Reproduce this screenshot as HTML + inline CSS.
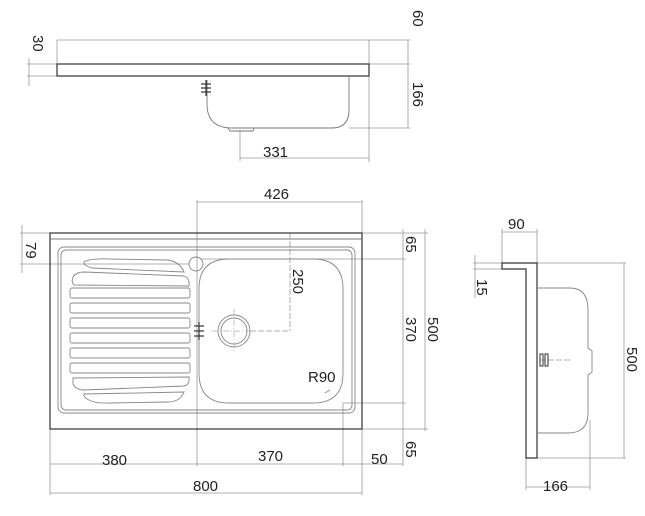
<!DOCTYPE html>
<html><head><style>
html,body{margin:0;padding:0;background:#fff;}
svg{display:block;}
text{font-family:"Liberation Sans",sans-serif;font-size:15px;fill:#222;}
</style></head><body>
<svg width="645" height="516" viewBox="0 0 645 516" xmlns="http://www.w3.org/2000/svg">
<g fill="none" stroke="#999" stroke-width="0.8">
<line x1="57" y1="40" x2="410" y2="40"/>
<line x1="57" y1="40" x2="57" y2="64"/>
<line x1="369" y1="40" x2="369" y2="162"/>
<line x1="408" y1="40" x2="408" y2="128"/>
<line x1="369" y1="64" x2="410" y2="64"/>
<line x1="349" y1="128" x2="410" y2="128"/>
<line x1="29" y1="58" x2="29" y2="86"/>
<line x1="27" y1="64" x2="57" y2="64"/>
<line x1="27" y1="76" x2="57" y2="76"/>
<line x1="240" y1="130" x2="240" y2="161"/>
<line x1="240" y1="158" x2="369" y2="158"/>
<line x1="197" y1="200" x2="197" y2="466"/>
<line x1="362" y1="200" x2="362" y2="233"/>
<line x1="197" y1="202" x2="362" y2="202"/>
<line x1="290" y1="233" x2="290" y2="331" stroke-dasharray="6,2"/>
<line x1="250" y1="331" x2="290" y2="331" stroke-dasharray="6,2"/>
<line x1="362" y1="233" x2="428" y2="233"/>
<line x1="200" y1="259" x2="406" y2="259"/>
<line x1="343" y1="403" x2="406" y2="403"/>
<line x1="362" y1="429" x2="428" y2="429"/>
<line x1="403" y1="229" x2="403" y2="466"/>
<line x1="425" y1="229" x2="425" y2="431"/>
<line x1="22" y1="225" x2="22" y2="273"/>
<line x1="20" y1="233" x2="50" y2="233"/>
<line x1="20" y1="264" x2="189" y2="264"/>
<line x1="343" y1="403" x2="343" y2="466"/>
<line x1="50" y1="429" x2="50" y2="495"/>
<line x1="362" y1="429" x2="362" y2="495"/>
<line x1="50" y1="464" x2="403" y2="464"/>
<line x1="50" y1="493" x2="362" y2="493"/>
<line x1="502" y1="229" x2="502" y2="263"/>
<line x1="537" y1="229" x2="537" y2="263"/>
<line x1="502" y1="232" x2="537" y2="232"/>
<line x1="475" y1="255" x2="475" y2="298"/>
<line x1="473" y1="263" x2="502" y2="263"/>
<line x1="473" y1="269" x2="502" y2="269"/>
<line x1="537" y1="263" x2="626" y2="263"/>
<line x1="537" y1="458" x2="626" y2="458"/>
<line x1="624" y1="263" x2="624" y2="458"/>
<line x1="526" y1="458" x2="526" y2="490"/>
<line x1="590" y1="420" x2="590" y2="490"/>
<line x1="526" y1="487" x2="590" y2="487"/>
<line x1="540" y1="360" x2="570" y2="360" stroke-dasharray="6,2"/>
</g>

<g fill="none" stroke="#333" stroke-width="1.2">
<rect x="57" y="64" width="312" height="12"/>
</g>
<g fill="none" stroke="#777" stroke-width="0.9">
<path d="M207,80 L207,104 Q207,128 232,128 L332,128 Q349,128 349,110 L349,76"/>
<path d="M228,128 L230,131 L253,131 L254,128"/>
</g>
<g stroke="#333" stroke-width="1.2">
<line x1="206" y1="80" x2="206" y2="96"/>
<line x1="201" y1="84" x2="211" y2="84"/>
<line x1="201" y1="88" x2="211" y2="88"/>
<line x1="201" y1="92" x2="211" y2="92"/>
</g>

<g fill="none" stroke="#333" stroke-width="1.2">
<rect x="50" y="233" width="312" height="196"/>
<line x1="50" y1="239" x2="362" y2="239" stroke="#777" stroke-width="0.9"/>
</g>
<g fill="none" stroke="#888" stroke-width="0.9">
<rect x="58" y="247" width="297" height="166" rx="6"/>
<rect x="61" y="250" width="291" height="160" rx="5"/>
<path d="M229,259 L313,259 Q343,259 343,289 L343,373 Q343,403 313,403 L229,403 Q199,403 199,373 L199,289 Q199,259 229,259 Z"/>
<circle cx="196" cy="264" r="7"/>
<circle cx="234" cy="331" r="16"/>
<circle cx="234" cy="331" r="13"/>
<path d="M84,262 Q90,258 110,259 L168,260 Q180,262 184,272 L92,268 Q84,266 84,262 Z"/>
<path d="M73,277 Q76,272 84,272 L184,276 Q190,278 189,286 L74,285 Q71,282 73,277 Z"/>
<rect x="70" y="288" width="120" height="10" rx="2"/>
<rect x="70" y="303" width="120" height="10" rx="2"/>
<rect x="70" y="318" width="120" height="10" rx="2"/>
<rect x="70" y="333" width="120" height="10" rx="2"/>
<rect x="70" y="348" width="120" height="10" rx="2"/>
<rect x="70" y="363" width="120" height="10" rx="2"/>
<path d="M73,378 L189,377 Q190,385 184,386 L84,390 Q76,390 73,384 Z"/>
<path d="M84,394 L184,392 Q180,402 168,402 L110,403 Q90,404 84,396 Z"/>
<line x1="325" y1="393" x2="330" y2="390"/>
</g>
<g stroke="#aaa" stroke-width="0.7" stroke-dasharray="6,2,1,2">
<line x1="212" y1="331" x2="256" y2="331"/>
<line x1="234" y1="309" x2="234" y2="353"/>
</g>
<g stroke="#333" stroke-width="1.2">
<line x1="199" y1="322" x2="199" y2="340"/>
<line x1="194" y1="326" x2="204" y2="326"/>
<line x1="194" y1="331" x2="204" y2="331"/>
<line x1="194" y1="336" x2="204" y2="336"/>
</g>

<g fill="none" stroke="#333" stroke-width="1.2">
<path d="M502,263 L537,263 L537,458 L526,458 L526,269 L502,269 Z"/>
</g>
<g fill="none" stroke="#888" stroke-width="0.9">
<path d="M537,288 L570,288 Q588,288 588,310 L588,348 L592,351 L592,372 L588,375 L588,413 Q588,433 568,433 L537,433"/>
</g>
<g stroke="#333" stroke-width="1">
<rect x="540" y="354" width="3" height="12" fill="none"/>
<rect x="545" y="354" width="3" height="12" fill="none"/>
</g>

<text x="263" y="157">331</text>
<text x="264" y="199">426</text>
<text x="308" y="382">R90</text>
<text x="102" y="465">380</text>
<text x="258" y="461">370</text>
<text x="371" y="464">50</text>
<text x="193" y="491">800</text>
<text x="508" y="229">90</text>
<text x="543" y="491">166</text>
<g>
<text transform="translate(33,35) rotate(90)">30</text>
<text transform="translate(413,10) rotate(90)">60</text>
<text transform="translate(413,82) rotate(90)">166</text>
<text transform="translate(26,242) rotate(90)">79</text>
<text transform="translate(293,269) rotate(90)">250</text>
<text transform="translate(406,236) rotate(90)">65</text>
<text transform="translate(406,317) rotate(90)">370</text>
<text transform="translate(406,441) rotate(90)">65</text>
<text transform="translate(428,317) rotate(90)">500</text>
<text transform="translate(477,279) rotate(90)">15</text>
<text transform="translate(627,347) rotate(90)">500</text>
</g>
</svg>
</body></html>
